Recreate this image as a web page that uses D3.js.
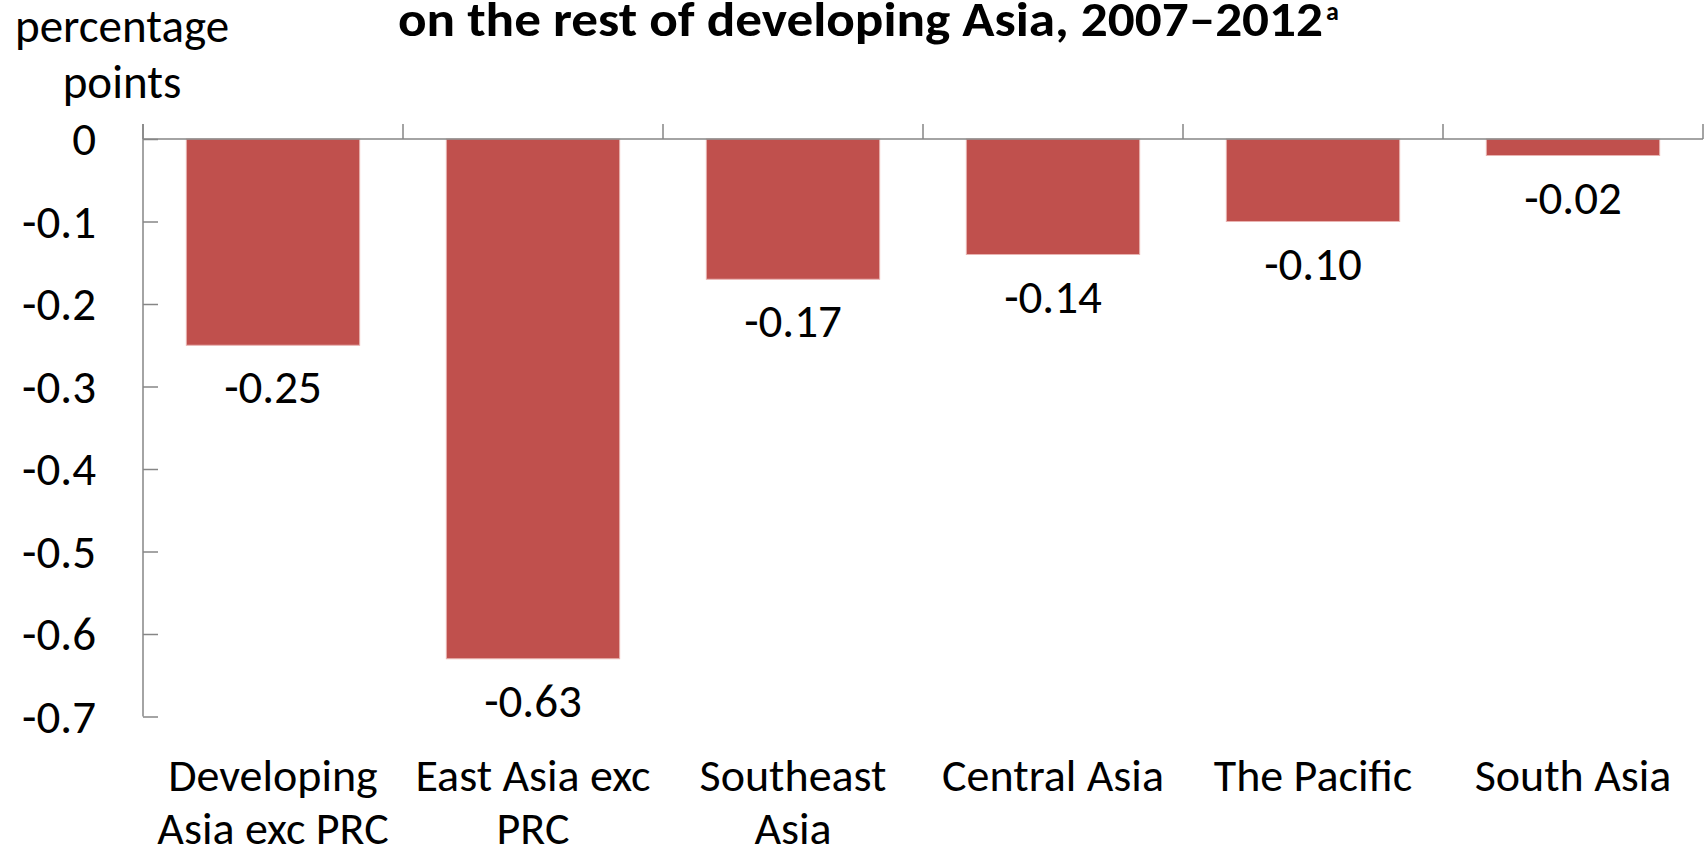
<!DOCTYPE html>
<html>
<head>
<meta charset="utf-8">
<script src="https://cdn.jsdelivr.net/npm/d3@7"></script>
<style>
  html, body { margin: 0; padding: 0; background: #fff; }
  svg { display: block; }
  text { font-family: Carlito, Calibri, Lato, "Open Sans", sans-serif; fill: #000; }
</style>
</head>
<body>
<svg id="chart" width="1706" height="854"></svg>
<script>
// ---- data ----
const categories = [
  ["Developing", "Asia exc PRC"],
  ["East Asia exc", "PRC"],
  ["Southeast", "Asia"],
  ["Central Asia"],
  ["The Pacific"],
  ["South Asia"]
];
const values = [-0.25, -0.63, -0.17, -0.14, -0.10, -0.02];
const yTicks = [0, -0.1, -0.2, -0.3, -0.4, -0.5, -0.6, -0.7];
const yTickLabels = ["0", "-0.1", "-0.2", "-0.3", "-0.4", "-0.5", "-0.6", "-0.7"];
const titleText = "on the rest of developing Asia, 2007\u20132012";
const titleSup = "a";
const yTitle = ["percentage", "points"];

(function () {
// ---- layout ----
const mLeft = 143, mRight = 1703, mTop = 139, mBottom = 716.5;
const barColor = "#C0504D";
const axisColor = "#868686";
const fontSize = 47;

const svg = d3.select("#chart");
const keys = categories.map((c, i) => i);

const x = d3.scaleBand().domain(keys).range([mLeft, mRight])
  .paddingInner(1/3).paddingOuter(1/6);
const y = d3.scaleLinear().domain([0, -0.7]).range([mTop, mBottom]);

// bars
svg.append("g").selectAll("rect").data(values).join("rect")
  .attr("x", (d, i) => x(i))
  .attr("y", d => y(0))
  .attr("width", x.bandwidth())
  .attr("height", d => y(d) - y(0))
  .attr("fill", barColor)
  .attr("stroke", "#e9b3b1")
  .attr("stroke-width", 1);

// y axis (ticks pointing right)
const yAxis = d3.axisRight(y).tickValues(yTicks).tickSize(15).tickFormat("");
const gy = svg.append("g").attr("transform", `translate(${mLeft},0)`).call(yAxis);
gy.select(".domain").remove();
gy.selectAll("line").attr("stroke", axisColor).attr("stroke-width", 1.5);
svg.append("line")
  .attr("x1", mLeft).attr("x2", mLeft)
  .attr("y1", mTop - 15).attr("y2", mBottom)
  .attr("stroke", axisColor).attr("stroke-width", 1.5);

// y tick labels
svg.append("g").selectAll("text").data(yTicks).join("text")
  .attr("x", 96)
  .attr("y", d => y(d) + 16)
  .attr("text-anchor", "end")
  .attr("font-size", fontSize)
  .text((d, i) => yTickLabels[i]);

// x axis line at zero + category boundary ticks (upward)
svg.append("line")
  .attr("x1", mLeft).attr("x2", mRight)
  .attr("y1", y(0)).attr("y2", y(0))
  .attr("stroke", axisColor).attr("stroke-width", 1.5);
const step = x.step();
const bounds = d3.range(keys.length + 1).map(i => mLeft + i * step);
svg.append("g").selectAll("line").data(bounds).join("line")
  .attr("x1", d => d).attr("x2", d => d)
  .attr("y1", y(0) - 15).attr("y2", y(0))
  .attr("stroke", axisColor).attr("stroke-width", 1.5);

// data labels
svg.append("g").selectAll("text").data(values).join("text")
  .attr("x", (d, i) => x(i) + x.bandwidth() / 2)
  .attr("y", d => y(d) + 58)
  .attr("text-anchor", "middle")
  .attr("font-size", fontSize)
  .text(d => d.toFixed(2));

// category labels
const cl = svg.append("g").selectAll("text").data(categories).join("text")
  .attr("text-anchor", "middle")
  .attr("font-size", 46);
cl.each(function(lines, i) {
  const t = d3.select(this);
  lines.forEach((ln, j) => {
    t.append("tspan")
      .attr("x", x(i) + x.bandwidth() / 2)
      .attr("y", 791 + j * 53)
      .text(ln);
  });
});

// y-axis title
svg.append("g").selectAll("text").data(yTitle).join("text")
  .attr("x", 122)
  .attr("y", (d, i) => 42 + i * 56)
  .attr("text-anchor", "middle")
  .attr("font-size", fontSize)
  .text(d => d);

// chart title (first line clipped off in reference)
const tt = svg.append("text")
  .attr("x", 398).attr("y", 36)
  .attr("font-size", 48)
  .attr("font-weight", "bold");
tt.append("tspan").attr("textLength", 925).attr("lengthAdjust", "spacingAndGlyphs").text(titleText);
tt.append("tspan").attr("font-size", 26).attr("dx", 3).attr("dy", -16).text(titleSup);
})();
</script>
</body>
</html>
